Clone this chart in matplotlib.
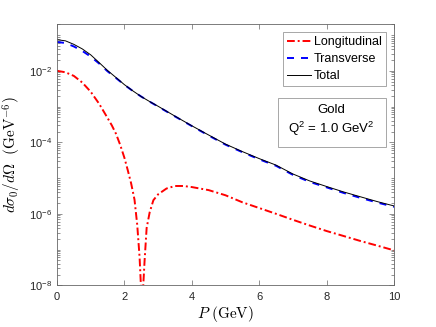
import numpy as np
import matplotlib

matplotlib.use("Agg")
import matplotlib.pyplot as plt
from matplotlib.patches import Rectangle
from matplotlib.ticker import FixedLocator, LogLocator, NullFormatter, FuncFormatter

plt.rcParams["font.family"] = ["Liberation Sans", "DejaVu Sans"]
plt.rcParams["mathtext.fontset"] = "custom"
plt.rcParams["mathtext.rm"] = "Liberation Sans"
plt.rcParams["mathtext.it"] = "Liberation Sans:italic"
plt.rcParams["axes.unicode_minus"] = False

# ---------------------------------------------------------------------------
# Values (P in GeV, cross sections in GeV^-6).
# ---------------------------------------------------------------------------
p_grid = [0, 0.25, 0.5, 0.75, 1.0, 1.25, 1.5, 1.75, 2.0, 2.25, 2.5, 2.75, 3.0,
          3.5, 4.0, 4.5, 5.0, 5.5, 6.0, 6.5, 7.0, 7.5, 8.0, 8.5, 9.0, 9.5, 10.0]
total = [7.4e-2, 6.9e-2, 5.5e-2, 4.1e-2, 2.8e-2, 1.7e-2, 1.02e-2, 6.5e-3,
         4.1e-3, 2.75e-3, 1.9e-3, 1.38e-3, 1.02e-3, 5.4e-4, 2.9e-4, 1.6e-4,
         8.9e-5, 5.5e-5, 3.5e-5, 2.3e-5, 1.3e-5, 8.3e-6, 5.8e-6, 4.1e-6,
         3.0e-6, 2.2e-6, 1.66e-6]
transverse = [6.4e-2, 6.0e-2, 4.8e-2, 3.6e-2, 2.5e-2, 1.6e-2, 9.7e-3, 6.3e-3,
              4.05e-3, 2.73e-3, 1.9e-3, 1.37e-3, 1.0e-3, 5.3e-4, 2.85e-4, 1.55e-4,
              8.6e-5, 5.3e-5, 3.35e-5, 2.2e-5, 1.23e-5, 7.8e-6, 5.5e-6, 3.85e-6,
              2.8e-6, 2.07e-6, 1.57e-6]

p_long = [0, 0.25, 0.5, 0.75, 1.0, 1.25, 1.5, 1.625, 1.75, 1.875, 2.0, 2.1, 2.2,
          2.3, 2.38, 2.45, 2.49, 2.52, 2.56, 2.6, 2.66, 2.75, 2.86, 3.0, 3.25,
          3.5, 3.75, 4.0, 4.5, 5.0, 5.5, 6.0, 6.5, 7.0, 7.5, 8.0, 8.5, 9.0, 9.5, 10.0]
longitudinal = [1.0e-2, 9.1e-3, 7.2e-3, 4.7e-3, 2.6e-3, 1.2e-3, 4.8e-4, 3.0e-4,
                1.74e-4, 8.5e-5, 3.7e-5, 1.66e-5, 7.1e-6, 2.5e-6, 5e-7, 6.3e-8,
                1e-8, 1e-11, 1e-8, 5e-8, 4e-7, 1.1e-6, 2.4e-6, 3.5e-6, 5.1e-6,
                6.0e-6, 6.0e-6, 5.6e-6, 4.6e-6, 3.3e-6, 2.1e-6, 1.45e-6, 1.0e-6,
                6.8e-7, 4.7e-7, 3.3e-7, 2.4e-7, 1.74e-7, 1.29e-7, 9.5e-8]

y_major = [1e-8, 1e-6, 1e-4, 1e-2]
x_ticks = [0, 2, 4, 6, 8, 10]

fig = plt.figure(figsize=(4.36, 3.27), dpi=100)
ax = fig.add_axes([0.1307, 0.1275, 0.7730, 0.7982])

ax.semilogy(p_long, longitudinal, color="red", lw=1.4, dashes=(4, 1.5, 1, 1.5),
            label="Longitudinal")
ax.semilogy(p_grid, transverse, color="blue", lw=1.4, dashes=(3.6, 3.6),
            label="Transverse")
ax.semilogy(p_grid, total, color="black", ls="-", lw=0.7, label="Total")

ax.set_xlim(0, 10)
ax.set_ylim(1e-8, 0.2)
ax.xaxis.set_major_locator(FixedLocator(x_ticks))
ax.yaxis.set_major_locator(FixedLocator(y_major))
ax.yaxis.set_minor_locator(LogLocator(base=10, subs=np.arange(1, 10), numticks=30))
ax.yaxis.set_minor_formatter(NullFormatter())
ax.yaxis.set_major_formatter(
    FuncFormatter(lambda v, _: r"$\mathdefault{10^{%d}}$" % round(np.log10(v))))

grey = "#666666"
for s in ax.spines.values():
    s.set_color(grey)
    s.set_linewidth(0.6)
ax.tick_params(which="both", direction="in", top=True, right=True,
               colors=grey, labelcolor="#262626", labelsize=8, width=0.5)
ax.tick_params(which="major", length=3.5)
ax.tick_params(which="minor", length=2)
ax.tick_params(axis="x", pad=5)

ax.set_xlabel(r"$P\ \mathrm{(GeV)}$", fontsize=11, math_fontfamily="cm", labelpad=1)
ax.set_ylabel(r"$d\sigma_0/d\Omega\ \ \mathrm{(GeV}^{-6}\mathrm{)}$", fontsize=11,
              math_fontfamily="cm", labelpad=4)

leg = ax.legend(loc="upper right", bbox_to_anchor=(0.976, 0.972), fontsize=9,
                fancybox=False, framealpha=1, edgecolor="#999999",
                handlelength=1.9, handletextpad=0.2, borderpad=0.35,
                labelspacing=0.4, borderaxespad=0)
leg.get_frame().set_linewidth(0.6)

ax.add_patch(Rectangle((0.655, 0.531), 0.321, 0.185, transform=ax.transAxes,
                       facecolor="white", edgecolor="#999999", lw=0.6, zorder=5))
ax.text(0.815, 0.672, "Gold", transform=ax.transAxes, ha="center", va="center",
        fontsize=9.5, zorder=6)
ax.text(0.815, 0.600, r"Q$^2$ = 1.0 GeV$^2$", transform=ax.transAxes,
        ha="center", va="center", fontsize=9.5, zorder=6)

fig.savefig("out.png", dpi=100)
